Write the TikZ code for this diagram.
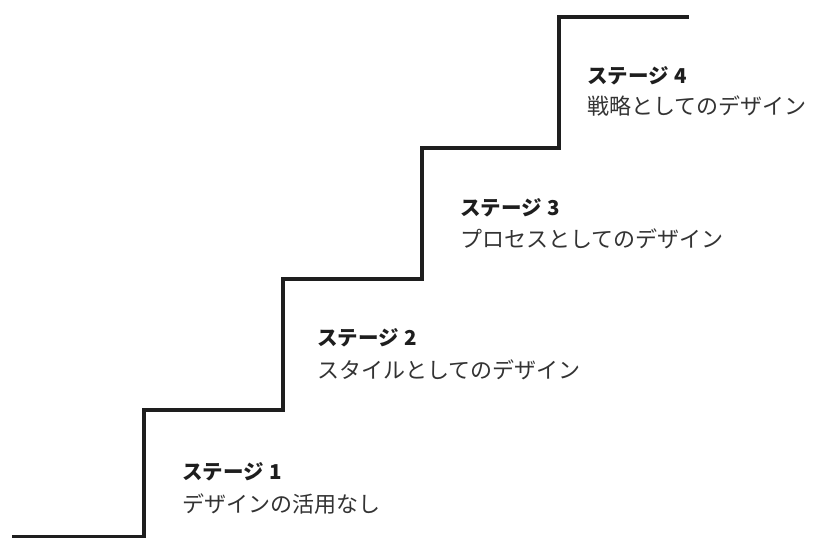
\documentclass[tikz,border=0pt]{standalone}
\usepackage{fontspec}
\newfontfamily\jp{Noto Sans CJK JP}
\definecolor{stair}{HTML}{1E1E1E}
\definecolor{subtxt}{HTML}{333333}
\tikzset{
  stairline/.style={draw=stair, line width=4pt, line join=miter},
  stagetitle/.style={anchor=west, inner sep=0pt, font=\jp\bfseries\fontsize{20.5}{24}\selectfont, text=stair},
  stagesub/.style={anchor=west, inner sep=0pt, font=\jp\fontsize{22}{26}\selectfont, text=subtxt},
}
\begin{document}
\begin{tikzpicture}[x=1pt,y=-1pt]
\useasboundingbox (0,0) rectangle (814,538);
\fill[white] (0,0) rectangle (814,538);
% stair corners
\coordinate (p0) at (12,537);
\coordinate (p1) at (144,537);
\coordinate (p2) at (144,410);
\coordinate (p3) at (283,410);
\coordinate (p4) at (283,279);
\coordinate (p5) at (422,279);
\coordinate (p6) at (422,148);
\coordinate (p7) at (559,148);
\coordinate (p8) at (559,17);
\coordinate (p9) at (689,17);
\draw[stairline] (p0) -- (p1) -- (p2) -- (p3) -- (p4) -- (p5) -- (p6) -- (p7) -- (p8) -- (p9);
% labels
\node[stagetitle] (t1) at (182,472) {ステージ\hspace{6pt}1};
\node[stagesub]   (s1) at (182,504) {デザインの活用なし};
\node[stagetitle] (t2) at (317,338) {ステージ\hspace{6pt}2};
\node[stagesub]   (s2) at (317,370) {スタイルとしてのデザイン};
\node[stagetitle] (t3) at (460,208) {ステージ\hspace{6pt}3};
\node[stagesub]   (s3) at (460,239) {プロセスとしてのデザイン};
\node[stagetitle] (t4) at (587,76) {ステージ\hspace{6pt}4};
\node[stagesub]   (s4) at (587,106) {戦略としてのデザイン};
\end{tikzpicture}
\end{document}
